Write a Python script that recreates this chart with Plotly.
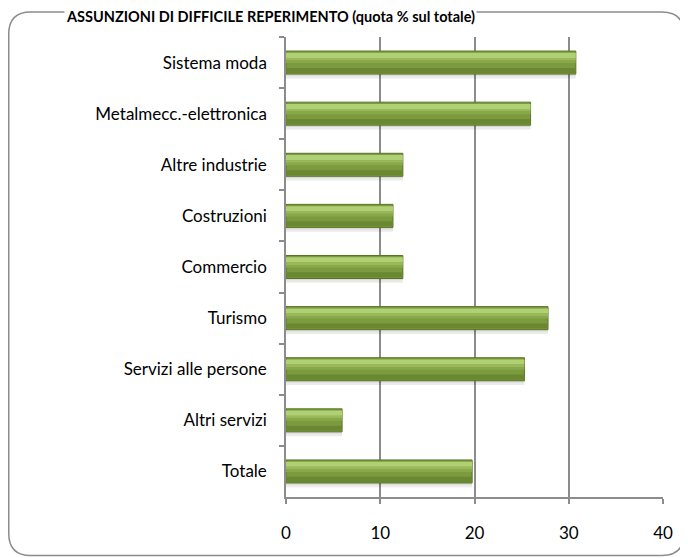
import plotly.graph_objects as go

categories = ["Sistema moda", "Metalmecc.-elettronica", "Altre industrie", "Costruzioni",
              "Commercio", "Turismo", "Servizi alle persone", "Altri servizi", "Totale"]
values = [30.75, 25.95, 12.4, 11.35, 12.4, 27.8, 25.3, 5.95, 19.75]
x_ticks = [0, 10, 20, 30, 40]
title_text = "ASSUNZIONI DI DIFFICILE REPERIMENTO (quota % sul totale)"

# the page adds an 8px body margin, so the figure is 8px smaller on each axis
W, H = 680, 550
L, R, T, B = 278, 25, 29, 61
PW, PH = W - L - R, H - T - B

def px(x):
    return (x - L) / PW

def py(y):
    return (H - B - y) / PH

GRID = "#8C8C8C"

fig = go.Figure()
# soft shadow
fig.add_trace(go.Bar(y=categories, x=values, orientation="h", width=0.47, offset=-0.16,
                     marker=dict(color="rgba(0,0,0,0.08)", line=dict(width=0)), hoverinfo="skip"))
fig.add_trace(go.Bar(y=categories, x=values, orientation="h", width=0.45, offset=-0.19,
                     marker=dict(color="rgba(0,0,0,0.08)", line=dict(width=0)), hoverinfo="skip"))
# main bar
fig.add_trace(go.Bar(y=categories, x=values, orientation="h", width=0.45, offset=-0.225,
                     marker=dict(color="#7C9B3F", line=dict(color="#5A7526", width=1))))
# top highlight (stepped gradient)
fig.add_trace(go.Bar(y=categories, x=values, orientation="h", width=0.1, offset=-0.19,
                     marker=dict(color="#B0D075", line=dict(width=0)), hoverinfo="skip"))
fig.add_trace(go.Bar(y=categories, x=values, orientation="h", width=0.05, offset=-0.09,
                     marker=dict(color="#9ABA5A", line=dict(width=0)), hoverinfo="skip"))
fig.add_trace(go.Bar(y=categories, x=values, orientation="h", width=0.05, offset=-0.04,
                     marker=dict(color="#88A84A", line=dict(width=0)), hoverinfo="skip"))
# bottom darker band
fig.add_trace(go.Bar(y=categories, x=values, orientation="h", width=0.1, offset=0.105,
                     marker=dict(color="#6A8831", line=dict(width=0)), hoverinfo="skip"))

fig.update_layout(
    width=W, height=H, barmode="overlay", showlegend=False,
    margin=dict(l=L, r=R, t=T, b=B),
    paper_bgcolor="white", plot_bgcolor="white",
    font=dict(family="Lato", size=17, color="black"),
    xaxis=dict(range=[0, 40], tickvals=x_ticks, showgrid=True, gridcolor=GRID, gridwidth=1.5,
               showline=True, linecolor=GRID, linewidth=1.5, ticks="outside", ticklen=5,
               tickcolor=GRID, tickwidth=1.5, zeroline=False, ticklabelstandoff=15,
               fixedrange=True),
    yaxis=dict(type="category", autorange="reversed", showline=True, linecolor=GRID,
               linewidth=1.5, ticks="outside", ticklen=5, tickcolor=GRID, tickwidth=1.5,
               tickson="boundaries", showgrid=False, ticklabelstandoff=14, fixedrange=True),
)

# rounded outer border
x0, x1, y0, y1, r = 0.75, 676, 4, 547.5, 22
path = (f"M {px(x0 + r)},{py(y0)} L {px(x1 - r)},{py(y0)} "
        f"Q {px(x1)},{py(y0)} {px(x1)},{py(y0 + r)} L {px(x1)},{py(y1 - r)} "
        f"Q {px(x1)},{py(y1)} {px(x1 - r)},{py(y1)} L {px(x0 + r)},{py(y1)} "
        f"Q {px(x0)},{py(y1)} {px(x0)},{py(y1 - r)} L {px(x0)},{py(y0 + r)} "
        f"Q {px(x0)},{py(y0)} {px(x0 + r)},{py(y0)} Z")
fig.add_shape(type="path", xref="paper", yref="paper", path=path,
              line=dict(color=GRID, width=1.5), layer="below")

fig.add_annotation(text=f"<b>{title_text}</b>", xref="paper", yref="paper",
                   x=px(262), y=py(8.5), xanchor="center", yanchor="middle",
                   showarrow=False, bgcolor="white", borderpad=1,
                   font=dict(family="Lato", size=14.5, color="black"))

fig.write_html("out.html")
